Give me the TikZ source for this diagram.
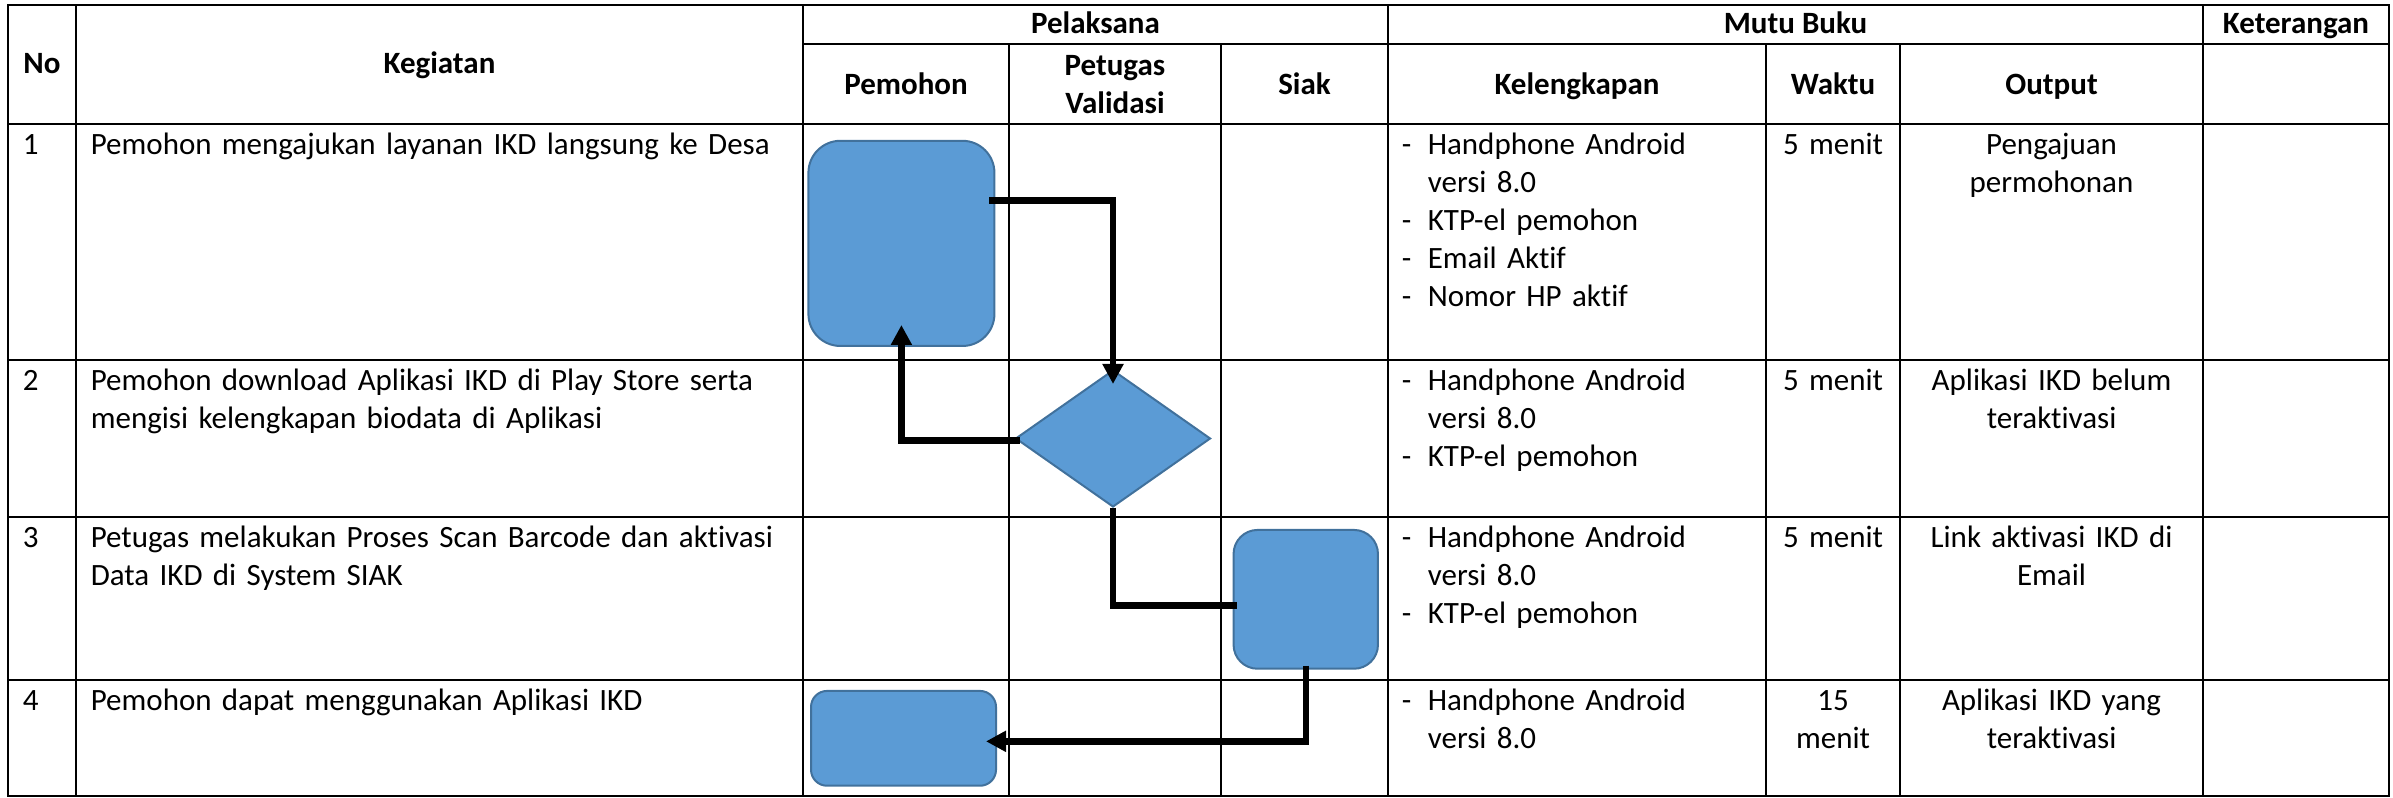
\documentclass[tikz,border=0pt]{standalone}
\usepackage{fontspec}
\setmainfont{Carlito}[Ligatures=NoCommon]
\usetikzlibrary{arrows.meta, shapes.geometric, calc}
\tikzset{
    %Define standard arrow tip
    >={Triangle[length=5pt, width=5pt]},
}
\definecolor{boxfill}{HTML}{5B9BD5}
\definecolor{boxline}{HTML}{41719C}
\newcommand{\isifont}{\fontsize{7.75pt}{9.5pt}\selectfont}
\newcommand{\butir}{\makebox[6.5pt][l]{-}}
\newcommand{\lanjut}{\hspace*{6.5pt}}

\begin{document}
\begin{tikzpicture}[x=0.25pt, y=-0.25pt]
    \tikzset{
      grid/.style={line width=0.55pt},
      hd/.style={font=\isifont\bfseries, inner sep=0, anchor=base, align=center},
      cell/.style={font=\isifont, inner sep=0, anchor=base west, align=left, text width=#1},
      mid/.style={font=\isifont, inner sep=0, anchor=base, align=center, text width=#1},
      wn/.style={draw=boxline, fill=boxfill,
                 line width=0.5pt,
                 shape=rectangle, inner sep=0},
      flow/.style={line width=1.6pt, ->},
      link/.style={line width=1.6pt}
    }
    \useasboundingbox (0,0) rectangle (2393,798);

    % table lines
    \draw[grid] (8,5) rectangle (2389,796);
    \draw[grid] (803,44) -- (2389,44);
    \foreach \y in {124,360,517,680}
        \draw[grid] (8,\y) -- (2389,\y);
    \foreach \x/\y in {76/5, 803/5, 1009/44, 1221/44, 1388/5, 1766/44, 1900/44, 2203/5}
        \draw[grid] (\x,\y) -- (\x,796);

    % header
    \node[hd] (no) at (42,74) {No};
    \node[hd] (kegiatan) at (439.5,74) {Kegiatan};
    \node[hd] (pelaksana) at (1095.5,34) {Pelaksana};
    \node[hd] (mutu) at (1795.5,34) {Mutu Buku};
    \node[hd] (keterangan) at (2296,34) {Keterangan};
    \node[hd] (pemohon) at (906,94.5) {Pemohon};
    \node[hd, text width=48pt] (petugas) at (1115,75.5) {Petugas\\Validasi};
    \node[hd] (siakhd) at (1304.5,94.5) {Siak};
    \node[hd] (kelengkapan) at (1577,94.5) {Kelengkapan};
    \node[hd] (waktu) at (1833,94.5) {Waktu};
    \node[hd] (output) at (2051.5,94.5) {Output};

    % rows
    \node[cell=10pt] (n1) at (22,155) {1};
    \node[cell=10pt] (n2) at (22,391) {2};
    \node[cell=10pt] (n3) at (22,548) {3};
    \node[cell=10pt] (n4) at (22,711) {4};

    \node[cell=178pt] (keg1) at (90,155) {Pemohon mengajukan layanan IKD langsung ke Desa};
    \node[cell=178pt] (keg2) at (90,391) {Pemohon download Aplikasi IKD di Play Store serta\\mengisi kelengkapan biodata di Aplikasi};
    \node[cell=178pt] (keg3) at (90,548) {Petugas melakukan Proses Scan Barcode dan aktivasi\\Data IKD di System SIAK};
    \node[cell=178pt] (keg4) at (90,711) {Pemohon dapat menggunakan Aplikasi IKD};

    \node[cell=90pt] (kel1) at (1401,155) {\butir Handphone Android\\\lanjut versi 8.0\\\butir KTP-el pemohon\\\butir Email Aktif\\\butir Nomor HP aktif};
    \node[cell=90pt] (kel2) at (1401,391) {\butir Handphone Android\\\lanjut versi 8.0\\\butir KTP-el pemohon};
    \node[cell=90pt] (kel3) at (1401,548) {\butir Handphone Android\\\lanjut versi 8.0\\\butir KTP-el pemohon};
    \node[cell=90pt] (kel4) at (1401,711) {\butir Handphone Android\\\lanjut versi 8.0};

    \node[mid=30pt] (wkt1) at (1833,155) {5 menit};
    \node[mid=30pt] (wkt2) at (1833,391) {5 menit};
    \node[mid=30pt] (wkt3) at (1833,548) {5 menit};
    \node[mid=30pt] (wkt4) at (1833,711) {15\\menit};

    \node[mid=70pt] (out1) at (2051.5,155) {Pengajuan\\permohonan};
    \node[mid=70pt] (out2) at (2051.5,391) {Aplikasi IKD belum\\teraktivasi};
    \node[mid=70pt] (out3) at (2051.5,548) {Link aktivasi IKD di\\Email};
    \node[mid=70pt] (out4) at (2051.5,711) {Aplikasi IKD yang\\teraktivasi};

    % flow shapes
    \node[wn, rounded corners=8pt, minimum width=46.5pt, minimum height=51.3pt] (ajukan) at (901.4,243.4) {};
    \node[wn, diamond, minimum width=48.75pt, minimum height=34.25pt] (validasi) at (1113,438.5) {};
    \node[wn, rounded corners=6pt, minimum width=36.1pt, minimum height=34.7pt] (siak) at (1305.75,599.35) {};
    \node[wn, rounded corners=4pt, minimum width=46.25pt, minimum height=23.7pt] (selesai) at (903.5,738.35) {};

    \draw[flow, shorten >=-3.75pt] ($(ajukan.east)+(-6,-43)$) -| (validasi.north);
    \draw[flow, shorten >=-5.5pt] ($(validasi.west)+(5,2)$) -| (ajukan.south);
    \draw[link] (validasi.south) |- ($(siak.west)+(4,6)$);
    \draw[flow, shorten >=-2.75pt] ($(siak.south)+(0,-4)$) |- ($(selesai.east)+(0,3)$);
\end{tikzpicture}
\end{document}
